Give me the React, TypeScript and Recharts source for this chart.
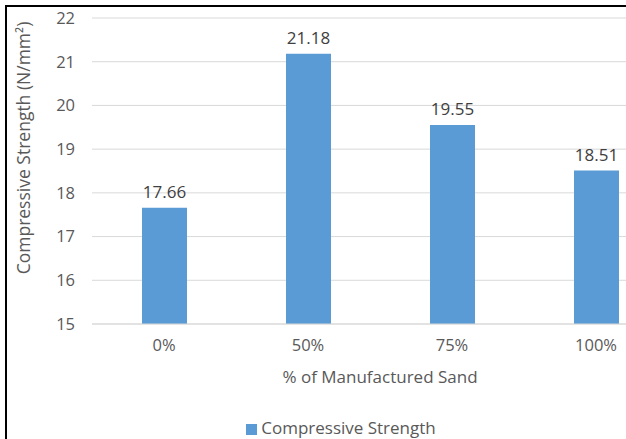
import React from "react";
import {
  BarChart,
  Bar,
  XAxis,
  YAxis,
  CartesianGrid,
  Legend,
  LabelList,
  Label,
} from "recharts";

const sandLevels = ["0%", "50%", "75%", "100%"];
const strengthValues = [17.66, 21.18, 19.55, 18.51];
const yTicks = [15, 16, 17, 18, 19, 20, 21, 22];

const data = sandLevels.map((level, i) => ({
  level,
  strength: strengthValues[i],
}));

const FONT = "'Open Sans', sans-serif";

function App() {
  return (
    <div
      style={{
        position: "fixed",
        left: 0,
        top: 0,
        width: 626,
        height: 439,
        overflow: "hidden",
        background: "#fff",
      }}
    >
      {/* frame line from the scanned page */}
      <div
        style={{
          position: "absolute",
          left: 5,
          top: 5,
          width: 700,
          height: 500,
          borderTop: "2px solid #000",
          borderLeft: "2px solid #000",
        }}
      />
      <div style={{ position: "absolute", left: 0, top: 0 }}>
        <BarChart
          width={668}
          height={439}
          data={data}
          margin={{ top: 18, right: 0, left: 0, bottom: 0 }}
          style={{ fontFamily: FONT }}
        >
          <CartesianGrid vertical={false} stroke="#d9d9d9" />
          <XAxis
            dataKey="level"
            height={95}
            tickSize={0}
            tickMargin={15}
            axisLine={{ stroke: "#d9d9d9" }}
            tick={{ fill: "#595959", fontSize: 16.5 }}
          >
            <Label
              value="% of Manufactured Sand"
              position="insideBottom"
              offset={36}
              style={{ fill: "#595959", fontSize: 17 }}
            />
          </XAxis>
          <YAxis
            width={92}
            domain={[15, 22]}
            ticks={yTicks}
            tickSize={0}
            tickMargin={17}
            axisLine={false}
            tick={{ fill: "#595959", fontSize: 16.5 }}
          >
            <Label
              content={() => (
                <text
                  x={23}
                  y={148}
                  transform="rotate(-90 23 148)"
                  textAnchor="middle"
                  dominantBaseline="central"
                  fill="#595959"
                  fontSize={17.5}
                  fontFamily={FONT}
                >
                  Compressive Strength (N/mm²)
                </text>
              )}
            />
          </YAxis>
          <Legend
            verticalAlign="bottom"
            height={20}
            iconType="square"
            iconSize={11}
            wrapperStyle={{ fontSize: 17, color: "#595959", left: 12, top: 416 }}
            formatter={(v) => <span style={{ color: "#595959" }}>{v}</span>}
          />
          <Bar
            dataKey="strength"
            name="Compressive Strength"
            fill="#5b9bd5"
            barSize={45}
            isAnimationActive={false}
          >
            <LabelList
              dataKey="strength"
              position="top"
              offset={10}
              fill="#404040"
              fontSize={17}
              formatter={(v: number) => v.toFixed(2)}
            />
          </Bar>
        </BarChart>
      </div>
    </div>
  );
}

export default App;
